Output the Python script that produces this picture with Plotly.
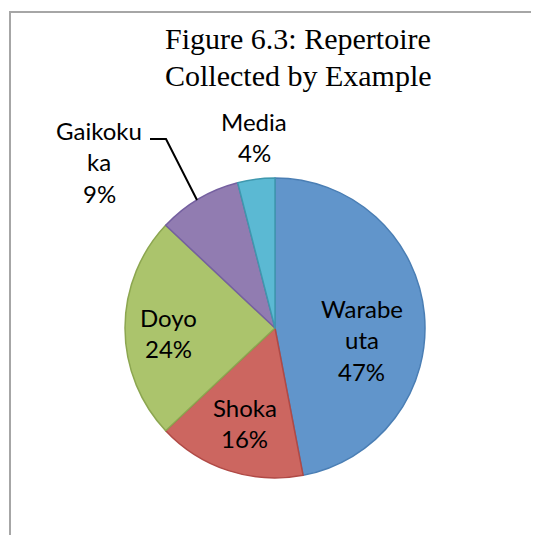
import plotly.graph_objects as go

# Repertoire share by category (percent)
categories = ["Warabe uta", "Shoka", "Doyo", "Gaikoku ka", "Media"]
values = [47, 16, 24, 9, 4]
label_lines = [["Warabe", "uta"], ["Shoka"], ["Doyo"], ["Gaikoku", "ka"], ["Media"]]

fills = ["#6195CB", "#CC6660", "#ABC46C", "#917CB1", "#5BB9D3"]
edges = ["#4A7EB4", "#B04A46", "#8CA650", "#7560A0", "#3F98AE"]

W, H = 533, 535
cx, cy, r = 275, 328, 150

def px(x):
    return x / W

def py(y):
    return 1 - y / H

fig = go.Figure(go.Pie(
    labels=categories,
    values=values,
    sort=False,
    direction="clockwise",
    rotation=0,
    textinfo="none",
    hoverinfo="label+percent",
    marker=dict(colors=fills, line=dict(color=edges, width=1.5)),
    domain=dict(x=[px(cx - r), px(cx + r)], y=[py(cy + r), py(cy - r)]),
    showlegend=False,
))

# label anchor: x centre and y centre of the first line, line pitch
label_pos = [(362, 308), (245, 407), (168, 317), (99, 130), (254, 121)]
pitch = 31.5

total = sum(values)
annotations = []
for lines, v, (lx, ly) in zip(label_lines, values, label_pos):
    pieces = lines + [f"{round(100 * v / total)}%"]
    for i, t in enumerate(pieces):
        annotations.append(dict(
            x=px(lx), y=py(ly + i * pitch), xref="paper", yref="paper",
            text=t, showarrow=False, xanchor="center", yanchor="middle",
            font=dict(family="Lato", size=24, color="#000000"),
        ))

# two-line chart title
for i, t in enumerate(["Figure 6.3: Repertoire", "Collected by Example"]):
    annotations.append(dict(
        x=px(298), y=py(39 + i * 36), xref="paper", yref="paper",
        text=t, showarrow=False, xanchor="center", yanchor="middle",
        font=dict(family="Liberation Serif", size=30, color="#000000"),
    ))

frame = dict(color="#A6A6A6", width=2)
shapes = [
    # chart frame: left and top edges
    dict(type="line", xref="paper", yref="paper",
         x0=px(10), x1=px(10), y0=0, y1=py(11), line=frame),
    dict(type="line", xref="paper", yref="paper",
         x0=px(9), x1=px(531), y0=py(12), y1=py(12), line=frame),
    # leader line for the small outside label
    dict(type="path", xref="paper", yref="paper",
         path=f"M {px(150)},{py(139)} L {px(166)},{py(139)} L {px(197)},{py(200)}",
         line=dict(color="#000000", width=2)),
]

fig.update_layout(
    width=W, height=H,
    margin=dict(l=0, r=0, t=0, b=0),
    paper_bgcolor="#FFFFFF",
    plot_bgcolor="#FFFFFF",
    annotations=annotations,
    shapes=shapes,
)

fig.write_html("out.html")
